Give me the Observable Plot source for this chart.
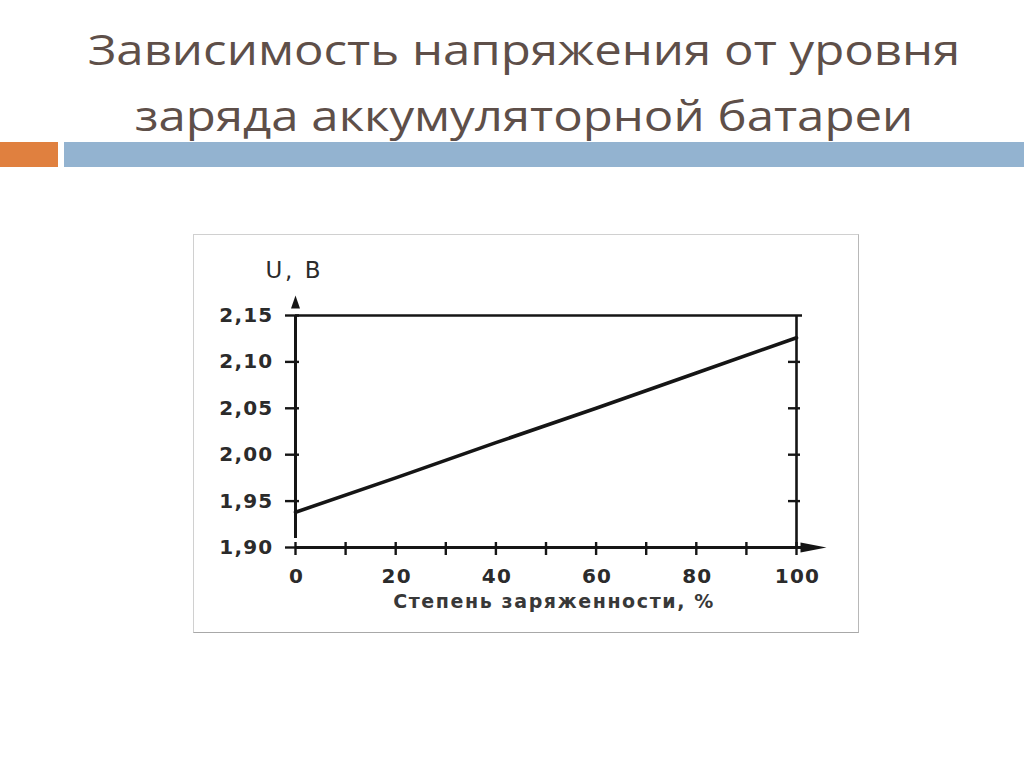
<!DOCTYPE html>
<html>
<head>
<meta charset="utf-8">
<script src="https://cdn.jsdelivr.net/npm/d3@7"></script>
<script src="https://cdn.jsdelivr.net/npm/@observablehq/plot@0.6"></script>
<style>
  html, body { margin: 0; padding: 0; background: #fff; }
  body { width: 1024px; height: 767px; position: relative; overflow: hidden; }
  #title {
    position: absolute; left: 0; top: 16px; width: 1048px;
    text-align: center; font-family: "Open Sans", sans-serif; font-size: 42px;
    line-height: 66px; color: #5e4f49;
    transform: scaleX(1.17); transform-origin: 524px 0;
  }
  #barO { position: absolute; left: 0; top: 142px; width: 58px; height: 25px; background: #e0803f; }
  #barB { position: absolute; left: 64px; top: 142px; width: 960px; height: 25px; background: #93b3d0; }
  #frame {
    position: absolute; left: 193px; top: 234px; width: 664px; height: 397px;
    border: 1px solid #d0d0d0; border-bottom-color: #a8a8a8; border-right-color: #b8b8b8; background: #fff;
  }
  #frame svg { display: block; }
</style>
</head>
<body>
<div id="title">Зависимость напряжения от уровня<br>заряда аккумуляторной батареи</div>
<div id="barO"></div>
<div id="barB"></div>
<div id="frame"></div>
<script>
// ---- data ----
const charge = [0, 20, 40, 60, 80, 100];
const voltage = [1.938, 1.975, 2.013, 2.050, 2.088, 2.126];
const xTicks = [0, 10, 20, 30, 40, 50, 60, 70, 80, 90, 100];
const xTickLabels = ["0", "20", "40", "60", "80", "100"];
const xLabelTicks = [0, 20, 40, 60, 80, 100];
const yTicks = [1.90, 1.95, 2.00, 2.05, 2.10, 2.15];
const yTickLabels = ["1,90", "1,95", "2,00", "2,05", "2,10", "2,15"];
const xDomain = [0, 100];
const yDomain = [1.90, 2.15];
const xTitle = "Степень заряженности, %";
const yTitle = "U, B";

const data = charge.map((c, i) => ({charge: c, voltage: voltage[i]}));

// arrow heads as custom symbols (base at origin, tip pointing up)
const arrowUp = {draw(ctx) { ctx.moveTo(0, -13); ctx.lineTo(4.5, 0); ctx.lineTo(-4.5, 0); ctx.closePath(); }};
const arrowLong = {draw(ctx) { ctx.moveTo(0, -26); ctx.lineTo(5, 0); ctx.lineTo(-5, 0); ctx.closePath(); }};

const ink = "#151515";
const numFont = {fontFamily: "DejaVu Sans", fontWeight: "bold", fontSize: 20, fill: "#2b2b2b"};

const chart = Plot.plot({
  width: 664,
  height: 397,
  marginLeft: 101,
  marginRight: 62,
  marginTop: 80,
  marginBottom: 85,
  x: {domain: xDomain, axis: null},
  y: {domain: yDomain, axis: null},
  style: {background: "transparent", overflow: "visible"},
  marks: [
    // top border line and right axis
    Plot.ruleY([yDomain[1]], {stroke: ink, strokeWidth: 2.6, insetRight: -6}),
    Plot.ruleX([xDomain[1]], {stroke: ink, strokeWidth: 2.6}),
    // left axis (extends to arrow)
    Plot.ruleX([xDomain[0]], {y1: yDomain[0], y2: yDomain[1], insetTop: -9, stroke: ink, strokeWidth: 3}),
    Plot.dot([xDomain[0]], {x: d => d, y: yDomain[1], dy: -7, symbol: arrowUp, r: 1, fill: ink, stroke: "none"}),
    // bottom axis (extends to arrow)
    Plot.ruleY([yDomain[0]], {x1: xDomain[0], x2: xDomain[1], insetRight: -5, stroke: ink, strokeWidth: 3}),
    Plot.dot([yDomain[0]], {x: xDomain[1], y: d => d, dx: 4, symbol: arrowLong, r: 1, rotate: 90, fill: ink, stroke: "none"}),
    // ticks
    Plot.ruleY(yTicks, {y: d => d, x1: xDomain[0], x2: xDomain[0], insetLeft: -10, insetRight: -4, stroke: ink, strokeWidth: 2.4}),
    Plot.ruleY(yTicks.slice(1, -1), {y: d => d, x1: xDomain[1], x2: xDomain[1], insetLeft: -8, insetRight: -4, stroke: ink, strokeWidth: 2.4}),
    Plot.ruleX(xTicks, {x: d => d, y1: yDomain[0], y2: yDomain[0], insetTop: -5, insetBottom: -8, stroke: ink, strokeWidth: 2.4}),
    // data line
    Plot.line(data, {x: "charge", y: "voltage", stroke: ink, strokeWidth: 3.6}),
    // tick labels
    Plot.text(yTicks, {x: xDomain[0], y: d => d, text: (d, i) => yTickLabels[i], textAnchor: "end", dx: -22, ...numFont}),
    Plot.text(xLabelTicks, {x: d => d, y: yDomain[0], text: (d, i) => xTickLabels[i], dy: 29, dx: 1, ...numFont}),
    // axis titles
    Plot.text([yTitle], {x: xDomain[0], y: yDomain[1], text: d => d, textAnchor: "start", dx: -30, dy: -45,
      fontFamily: "DejaVu Sans", fontSize: 23, fill: "#2b2b2b"}),
    Plot.text([xTitle], {frameAnchor: "bottom", text: d => d, dx: 8, dy: 60,
      fontFamily: "DejaVu Sans", fontWeight: "bold", fontSize: 19, fill: "#383838"})
  ]
});

// letter spacing to match the wide lettering of the original figure
d3.select(chart).selectAll("text").each(function() {
  const t = this.textContent;
  let ls = null;
  if (yTickLabels.includes(t) || xTickLabels.includes(t)) ls = "1.2px";
  else if (t === yTitle) ls = "2.6px";
  else if (t === xTitle) ls = "1.6px";
  if (ls) this.setAttribute("letter-spacing", ls);
});
document.getElementById("frame").appendChild(chart);
</script>
</body>
</html>
